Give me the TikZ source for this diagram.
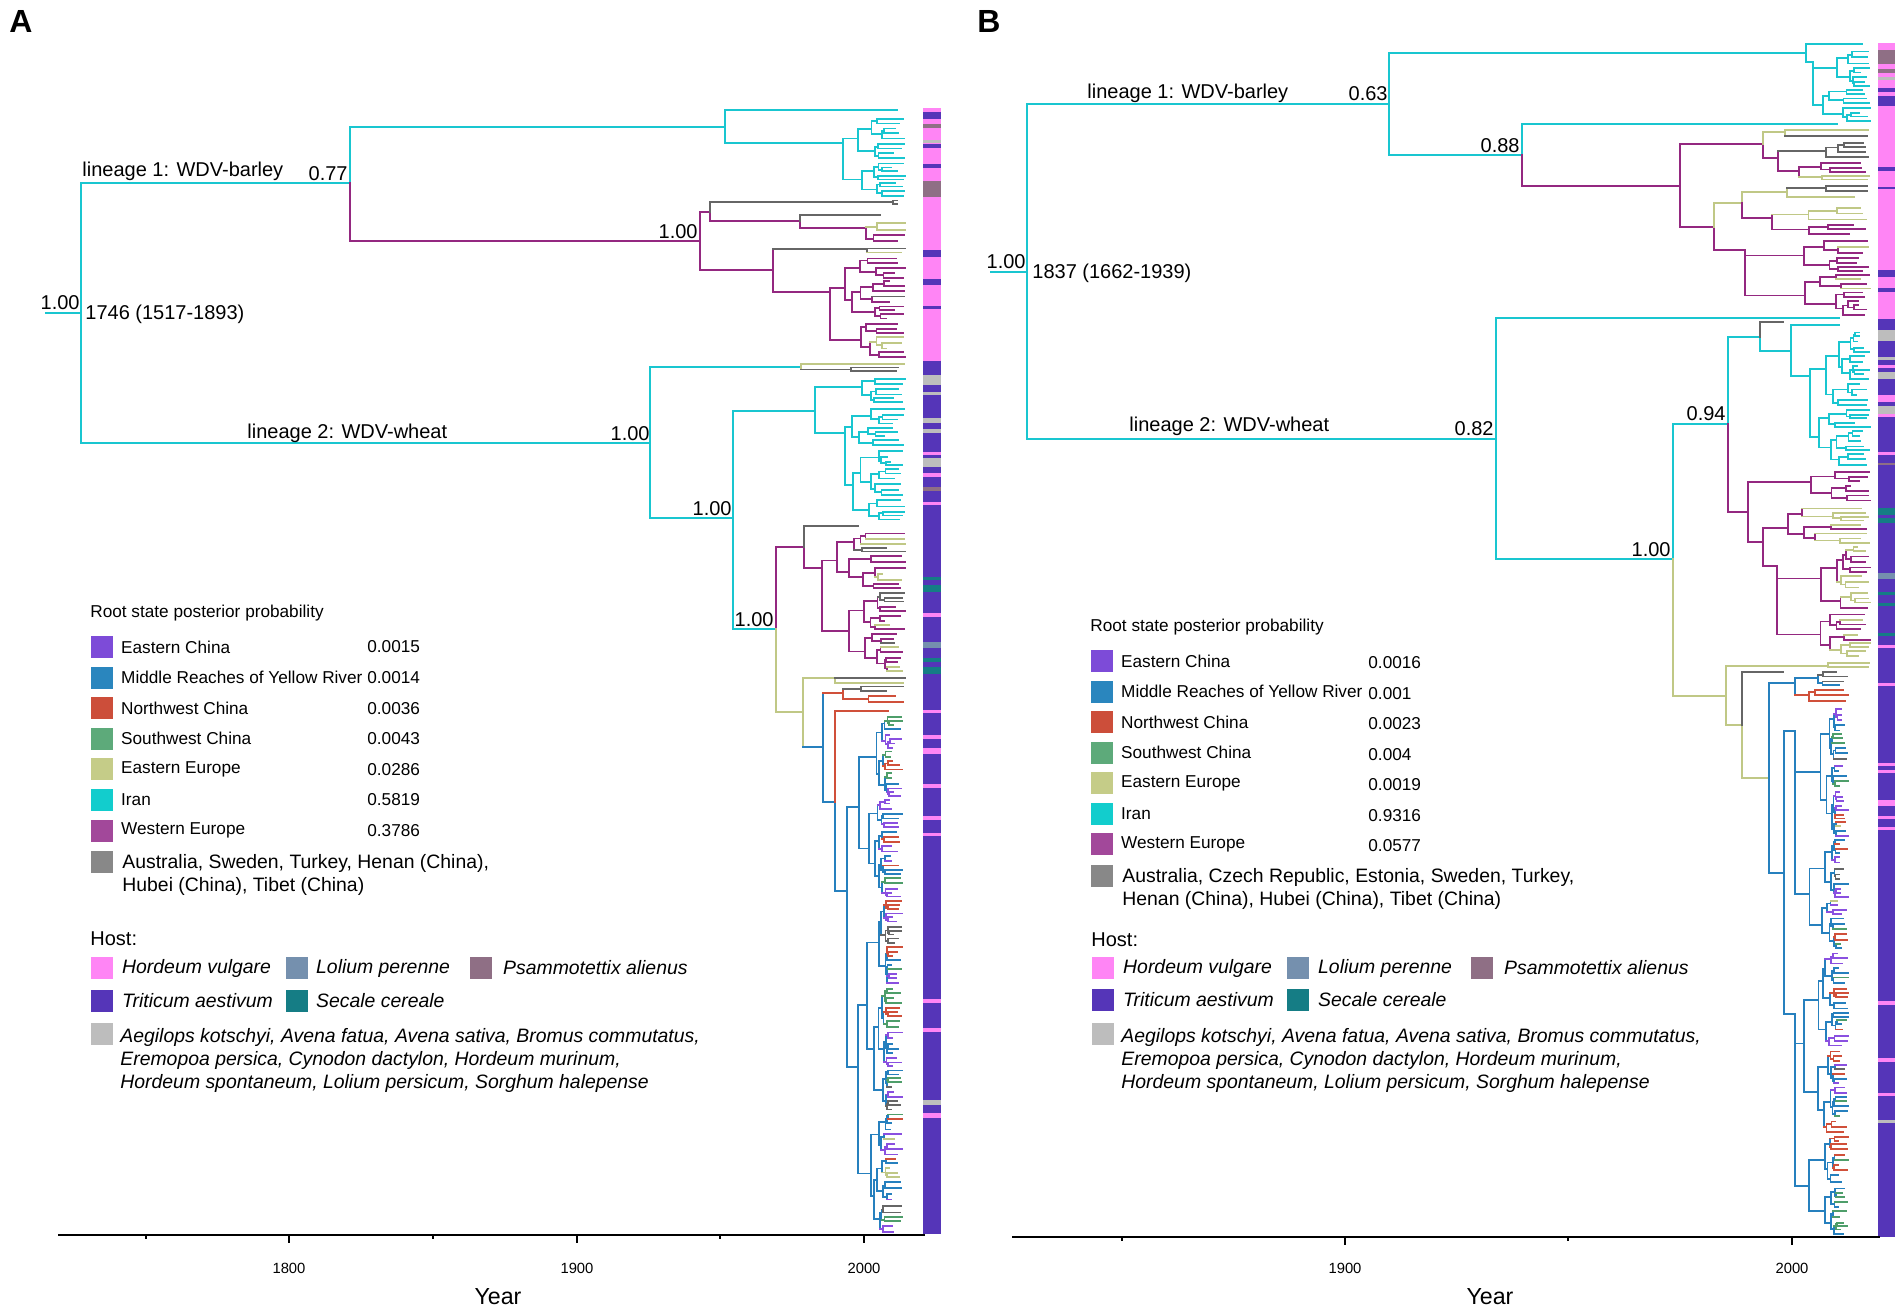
\documentclass[tikz,border=0pt]{standalone}
\usepackage{fontspec}
\setmainfont{Liberation Sans}
\usetikzlibrary{positioning}

\definecolor{cyT}{RGB}{25,198,208}
\definecolor{mgT}{RGB}{148,40,128}
\definecolor{olT}{RGB}{192,200,134}
\definecolor{gyT}{RGB}{102,102,102}
\definecolor{blT}{RGB}{38,128,190}
\definecolor{rdT}{RGB}{208,80,58}
\definecolor{gnT}{RGB}{78,158,106}
\definecolor{viT}{RGB}{138,80,224}
\definecolor{lEast}{RGB}{125,75,216}
\definecolor{lMid}{RGB}{42,134,190}
\definecolor{lNW}{RGB}{204,78,58}
\definecolor{lSW}{RGB}{93,170,122}
\definecolor{lEE}{RGB}{197,204,136}
\definecolor{lIran}{RGB}{18,205,205}
\definecolor{lWE}{RGB}{162,72,154}
\definecolor{lOth}{RGB}{136,136,136}
\definecolor{hPink}{RGB}{255,133,245}
\definecolor{hLol}{RGB}{117,144,174}
\definecolor{hPsa}{RGB}{143,111,133}
\definecolor{hTri}{RGB}{85,53,184}
\definecolor{hSec}{RGB}{21,125,133}
\definecolor{hOth}{RGB}{189,189,189}

\def\tipx{900}\def\tipjit{30}\def\tipgap{7}
\def\mixp{0}\def\mixn{1}\def\mixlist{0}
\newcommand{\setmix}[3]{\def\mixp{#1}\def\mixn{#2}\def\mixlist{#3}}
\newcommand{\pickmix}{%
  \pgfmathtruncatemacro{\tCi}{{\mixlist}[min(int(rnd*\mixn),\mixn-1)]}%
  \ifcase\tCi\def\tCc{rdT}\or\def\tCc{gnT}\or\def\tCc{viT}\or\def\tCc{gyT}\or\def\tCc{olT}\or\def\tCc{mgT}\fi
  \def\mixp{0}}
\newcommand{\subtree}[3]{%
  \begingroup
  \pgfmathsetmacro{\tHh}{#3-#2}%
  \pgfmathsetmacro{\tYm}{(#2+#3)/2}%
  \pgfmathtruncatemacro{\tSw}{and(\tHh<3*\tipgap,rnd<\mixp)}%
  \ifnum\tSw=1 \pickmix\fi
  \ifdim\tHh pt<\tipgap pt
    \pgfmathsetmacro{\tXe}{max(\tipx-\tipjit*rnd*rnd,#1+4)}%
    \draw[\tCc] (#1,\tYm) -- (\tXe,\tYm);%
  \else
    \pgfmathsetmacro{\tXn}{#1+max(\tipx-0.5*\tipjit-#1,3)*(0.15+0.45*rnd)}%
    \pgfmathsetmacro{\tYs}{#2+\tHh*(0.3+0.4*rnd)}%
    \pgfmathsetmacro{\tUa}{(#2+\tYs)/2}%
    \pgfmathsetmacro{\tLa}{(\tYs+#3)/2}%
    \draw[\tCc] (#1,\tYm) -- (\tXn,\tYm) (\tXn,\tUa) -- (\tXn,\tLa);%
    \edef\next{\noexpand\subtree{\tXn}{#2}{\tYs}\noexpand\subtree{\tXn}{\tYs}{#3}}%
    \next
  \fi
  \endgroup}
\newcommand{\clade}[6]{%
  \begingroup
  \def\tCc{#1}%
  \pgfmathsetmacro{\tHh}{#6-#5}%
  \pgfmathsetmacro{\tYs}{#5+\tHh*(0.35+0.3*rnd)}%
  \pgfmathsetmacro{\tUa}{(#5+\tYs)/2}%
  \pgfmathsetmacro{\tLa}{(\tYs+#6)/2}%
  \pgfmathsetmacro{\tVa}{min(\tUa,#3)}%
  \pgfmathsetmacro{\tVb}{max(\tLa,#3)}%
  \draw[\tCc] (#2,#3) -- (#4,#3) (#4,\tVa) -- (#4,\tVb);%
  \edef\next{\noexpand\subtree{#4}{#5}{\tYs}\noexpand\subtree{#4}{\tYs}{#6}}%
  \next
  \endgroup}

\begin{document}
\begin{tikzpicture}[x=0.5pt,y=-0.5pt,
    lab/.style={font=\fontsize{10}{12}\selectfont,inner sep=0pt},
    leg/.style={font=\fontsize{8.6}{10}\selectfont,inner sep=0pt,anchor=west},
    legb/.style={font=\fontsize{9.7}{11.5}\selectfont,inner sep=0pt,anchor=west},
    hostl/.style={font=\fontsize{9.7}{11.5}\selectfont\itshape,inner sep=0pt,anchor=west},
    swatch/.style={minimum size=11pt,inner sep=0pt,anchor=west},
    axl/.style={font=\fontsize{7.4}{9}\selectfont,inner sep=0pt},
    yearl/.style={font=\fontsize{11.6}{13}\selectfont,inner sep=0pt},
    panel/.style={font=\fontsize{16}{16}\selectfont\bfseries,inner sep=0pt,anchor=north west},
    bb/.style={line width=1.25pt,line cap=rect},
    twig/.style={line width=0.9pt,line cap=rect}]
  \useasboundingbox (0,0) rectangle (1902,1312);
  \pgfmathsetseed{11}

  \node[panel] (pA) at (9,10) {A};
  \node[panel] (pB) at (977,10) {B};

  \begin{scope}[bb]
    \draw[cyT] (46,313) -- (81,313);
    \draw[cyT] (81,183) -- (81,443);
    \draw[cyT] (81,183) -- (350,183);
    \draw[cyT] (350,127) -- (350,183);
    \draw[mgT] (350,183) -- (350,241);
    \draw[cyT] (350,127) -- (725,127);
    \draw[mgT] (350,241) -- (700,241);
    \draw[cyT] (81,443) -- (650,443);
    \draw[cyT] (650,367) -- (650,518);
    \draw[cyT] (650,367) -- (801,367);
    \draw[cyT] (650,518) -- (733,518);
    \draw[cyT] (733,411) -- (733,629);
    \draw[cyT] (733,629) -- (776,629);
    \draw[mgT] (776,547) -- (776,629);
    \draw[olT] (776,629) -- (776,712);
  \end{scope}

  \begin{scope}[twig]
    \def\tipx{905}\def\tipjit{28}
    \setmix{0}{1}{0}
    \draw[cyT] (725,110) -- (725,143) (725,110) -- (897,110);
    \clade{cyT}{725}{143}{843}{116}{198}
    \draw[mgT] (700,212) -- (700,270) (700,212) -- (710,212) (710,212) -- (710,221);
    \draw[gyT] (710,202) -- (710,212);
    \clade{gyT}{710}{202}{893}{199}{206}
    \draw[mgT] (710,221) -- (800,221) (800,221) -- (800,228);
    \draw[gyT] (800,215) -- (800,221) (800,215) -- (880,215);
    \setmix{0.15}{3}{4,4,3}
    \clade{mgT}{800}{228}{866}{220}{244}
    \draw[mgT] (700,270) -- (773,270) (773,249) -- (773,292);
    \setmix{0.5}{1}{4}
    \clade{gyT}{773}{249}{867}{246}{254}
    \setmix{0.15}{3}{4,4,3}
    \clade{mgT}{773}{292}{830}{256}{360}
    \setmix{0.4}{1}{3}
    \clade{olT}{801}{367}{801}{362}{373}
    \setmix{0}{1}{0}
    \draw[cyT] (733,411) -- (815,411) (815,387) -- (815,433);
    \clade{cyT}{815}{387}{862}{376}{404}
    \clade{cyT}{815}{433}{845}{406}{522}
    \draw[mgT] (776,547) -- (804,547) (804,547) -- (804,568);
    \draw[gyT] (804,526) -- (804,547) (804,526) -- (858,526);
    \setmix{0.2}{3}{4,4,3}
    \clade{mgT}{804}{568}{822}{531}{672}
    \draw[olT] (776,712) -- (803,712) (803,678) -- (803,747);
    \setmix{0.4}{1}{3}
    \clade{olT}{803}{678}{835}{675}{685}
    \draw[blT] (803,747) -- (823,747) (823,693) -- (823,802) (823,802) -- (835,802) (835,802) -- (835,891);
    \draw[rdT] (835,711) -- (835,802) (835,711) -- (888,711);
    \setmix{0.5}{1}{3}
    \clade{rdT}{823}{693}{843}{684}{705}
    \def\tipx{902}\def\tipjit{24}
    \setmix{0.45}{11}{0,0,0,1,1,1,2,2,2,3,4}
    \clade{blT}{835}{891}{847}{715}{1235}
  \end{scope}

  \node[lab,anchor=base east] (sA0) at (80,309) {1.00};
  \node[lab,anchor=base west] (dA) at (85,319) {1746 (1517-1893)};
  \node[lab,anchor=base west] (lA1) at (82,176) {lineage 1: WDV-barley};
  \node[lab,anchor=base east] (sA1) at (348,180) {0.77};
  \node[lab,anchor=base east] (sA2) at (698,238) {1.00};
  \node[lab,anchor=base west] (lA2) at (247,438) {lineage 2: WDV-wheat};
  \node[lab,anchor=base east] (sA3) at (650,440) {1.00};
  \node[lab,anchor=base east] (sA4) at (732,515) {1.00};
  \node[lab,anchor=base east] (sA5) at (774,626) {1.00};

  \fill[hPink] (923,108) rectangle (941,361);
  \fill[hTri] (923,361) rectangle (941,1234);
  \foreach \ya/\yb/\cl in {112/119/hTri,124/128/hPsa,140/143/hOth,144/148/hTri,164/168/hTri,181/197/hPsa,
      250/257/hTri,279/285/hTri,306/309/hTri,375/385/hOth,392/395/hOth,418/423/hOth,429/433/hOth,
      452/455/hPink,458/467/hOth,473/477/hPink,487/491/hPsa,502/505/hPink,577/580/hSec,585/592/hSec,
      613/617/hPink,642/648/hLol,658/662/hSec,667/674/hSec,710/713/hPink,735/739/hPink,748/754/hPink,
      784/788/hPink,816/820/hPink,833/836/hPink,999/1003/hPink,1028/1032/hPink,1100/1105/hOth,1113/1118/hPink}
    \fill[\cl] (923,\ya) rectangle (941,\yb);

  \begin{scope}[bb]
    \draw[cyT] (991,272) -- (1027,272);
    \draw[cyT] (1027,104) -- (1027,439);
    \draw[cyT] (1027,104) -- (1389,104);
    \draw[cyT] (1389,53) -- (1389,155);
    \draw[cyT] (1389,53) -- (1806,53);
    \draw[cyT] (1389,155) -- (1522,155);
    \draw[cyT] (1522,124) -- (1522,155);
    \draw[mgT] (1522,155) -- (1522,186);
    \draw[mgT] (1522,186) -- (1680,186);
    \draw[cyT] (1027,439) -- (1496,439);
    \draw[cyT] (1496,318) -- (1496,559);
    \draw[cyT] (1496,559) -- (1673,559);
    \draw[cyT] (1673,424) -- (1673,559);
    \draw[olT] (1673,559) -- (1673,696);
    \draw[cyT] (1673,424) -- (1728,424);
    \draw[cyT] (1728,337) -- (1728,424);
    \draw[mgT] (1728,424) -- (1728,512);
  \end{scope}

  \begin{scope}[twig]
    \def\tipx{1870}\def\tipjit{22}
    \setmix{0}{1}{0}
    \draw[cyT] (1806,44) -- (1806,62) (1806,44) -- (1862,44);
    \clade{cyT}{1806}{62}{1813}{49}{123}
    \draw[cyT] (1522,124) -- (1837,124);
    \draw[cyT] (1496,318) -- (1839,318);
    \draw[mgT] (1680,144) -- (1680,227) (1680,144) -- (1763,144) (1763,144) -- (1763,158);
    \draw[olT] (1763,132) -- (1763,144);
    \setmix{0.3}{1}{3}
    \clade{olT}{1763}{132}{1785}{127}{139}
    \setmix{0.2}{3}{3,4,4}
    \clade{mgT}{1763}{158}{1778}{141}{181}
    \draw[mgT] (1680,227) -- (1714,227) (1714,227) -- (1714,250);
    \draw[olT] (1714,203) -- (1714,227) (1714,203) -- (1742,203) (1742,192) -- (1742,203);
    \draw[mgT] (1742,203) -- (1742,218);
    \setmix{0.3}{1}{3}
    \clade{olT}{1742}{192}{1787}{183}{200}
    \setmix{0.3}{2}{3,4}
    \clade{mgT}{1742}{218}{1772}{206}{236}
    \setmix{0.15}{1}{4}
    \clade{mgT}{1714}{250}{1745}{238}{318}
    \setmix{0}{1}{0}
    \draw[cyT] (1728,337) -- (1760,337) (1760,337) -- (1760,351) (1760,351) -- (1791,351) (1791,325) -- (1791,376) (1791,325) -- (1839,325);
    \draw[gyT] (1760,322) -- (1760,337) (1760,322) -- (1783,322);
    \clade{cyT}{1791}{376}{1810}{331}{467}
    \draw[mgT] (1728,512) -- (1748,512) (1748,482) -- (1748,542) (1748,542) -- (1763,542) (1763,528) -- (1763,566);
    \setmix{0.1}{1}{4}
    \clade{mgT}{1748}{482}{1811}{470}{503}
    \setmix{0.3}{1}{4}
    \clade{mgT}{1763}{528}{1788}{506}{545}
    \clade{mgT}{1763}{566}{1777}{546}{658}
    \draw[olT] (1673,696) -- (1726,696) (1726,666) -- (1726,725) (1726,725) -- (1742,725) (1742,725) -- (1742,778) (1742,778) -- (1769,778);
    \draw[gyT] (1742,672) -- (1742,725) (1742,672) -- (1783,672);
    \setmix{0}{1}{0}
    \clade{olT}{1726}{666}{1828}{662}{669}
    \draw[blT] (1769,683) -- (1769,873) (1769,873) -- (1784,873) (1784,731) -- (1784,1014);
    \def\tipx{1848}\def\tipjit{20}
    \setmix{0.5}{2}{3,0}
    \clade{blT}{1769}{683}{1795}{670}{704}
    \setmix{0.45}{11}{0,0,0,1,1,1,2,2,2,3,4}
    \clade{blT}{1784}{731}{1795}{706}{950}
    \clade{blT}{1784}{1014}{1795}{952}{1237}
  \end{scope}

  \node[lab,anchor=base east] (sB0) at (1026,268) {1.00};
  \node[lab,anchor=base west] (dB) at (1032,278) {1837 (1662-1939)};
  \node[lab,anchor=base west] (lB1) at (1087,98) {lineage 1: WDV-barley};
  \node[lab,anchor=base east] (sB1) at (1388,100) {0.63};
  \node[lab,anchor=base east] (sB2) at (1520,152) {0.88};
  \node[lab,anchor=base west] (lB2) at (1129,431) {lineage 2: WDV-wheat};
  \node[lab,anchor=base east] (sB3) at (1494,435) {0.82};
  \node[lab,anchor=base east] (sB4) at (1726,420) {0.94};
  \node[lab,anchor=base east] (sB5) at (1671,556) {1.00};

  \fill[hPink] (1878,43) rectangle (1895,319);
  \fill[hTri] (1878,319) rectangle (1895,1237);
  \foreach \ya/\yb/\cl in {50/64/hPsa,69/73/hPsa,77/80/hOth,88/92/hTri,96/106/hTri,167/171/hTri,187/189/hTri,
      270/277/hTri,288/292/hTri,330/341/hOth,357/360/hOth,365/368/hPink,372/379/hOth,395/402/hPink,
      406/414/hOth,414/417/hPink,452/455/hPink,463/465/hPsa,508/515/hSec,518/523/hSec,573/579/hLol,
      592/595/hSec,603/606/hSec,633/636/hSec,645/648/hPink,683/686/hPink,763/766/hPink,770/773/hPink,
      800/806/hPink,816/819/hPink,827/830/hPink,1001/1005/hPink,1058/1062/hPink,1093/1096/hPink,1120/1123/hOth}
    \fill[\cl] (1878,\ya) rectangle (1895,\yb);

  \node[leg] (rsA) at (90,613) {Root state posterior probability};
  \foreach \cl/\nm/\pv [count=\i] in {lEast/Eastern China/0.0015,lMid/Middle Reaches of Yellow River/0.0014,
      lNW/Northwest China/0.0036,lSW/Southwest China/0.0043,lEE/Eastern Europe/0.0286,
      lIran/Iran/0.5819,lWE/Western Europe/0.3786} {
    \pgfmathsetmacro{\yy}{647+(\i-1)*30.6}
    \node[swatch,fill=\cl] (swA\i) at (91,\yy) {};
    \node[leg,right=3.5pt of swA\i] (nmA\i) {\nm};
    \node[leg] (pvA\i) at (367,\yy) {\pv};
  }
  \node[swatch,fill=lOth] (swA8) at (91,862) {};
  \node[legb] (nmA8) at (122,863) {Australia, Sweden, Turkey, Henan (China),};
  \node[legb] (nmA9) at (122,886) {Hubei (China), Tibet (China)};

  \node[lab,anchor=west] (hoA) at (90,939) {Host:};
  \node[swatch,fill=hPink] (hA1) at (91,968) {};
  \node[hostl,right=4pt of hA1] (htA1) {Hordeum vulgare};
  \node[swatch,fill=hLol] (hA2) at (286,968) {};
  \node[hostl,right=3.5pt of hA2] (htA2) {Lolium perenne};
  \node[swatch,fill=hPsa] (hA3) at (470,968) {};
  \node[hostl,right=5pt of hA3] (htA3) {Psammotettix alienus};
  \node[swatch,fill=hTri] (hA4) at (91,1001) {};
  \node[hostl,right=4pt of hA4] (htA4) {Triticum aestivum};
  \node[swatch,fill=hSec] (hA5) at (286,1001) {};
  \node[hostl,right=3.5pt of hA5] (htA5) {Secale cereale};
  \node[swatch,fill=hOth] (hA6) at (91,1034) {};
  \node[hostl] (htA6) at (120,1037) {Aegilops kotschyi, Avena fatua, Avena sativa, Bromus commutatus,};
  \node[hostl] (htA7) at (120,1060) {Eremopoa persica, Cynodon dactylon, Hordeum murinum,};
  \node[hostl] (htA8) at (120,1083) {Hordeum spontaneum, Lolium persicum, Sorghum halepense};

  \node[leg] (rsB) at (1090,627) {Root state posterior probability};
  \foreach \cl/\nm/\pv [count=\i] in {lEast/Eastern China/0.0016,lMid/Middle Reaches of Yellow River/0.001,
      lNW/Northwest China/0.0023,lSW/Southwest China/0.004,lEE/Eastern Europe/0.0019,
      lIran/Iran/0.9316,lWE/Western Europe/0.0577} {
    \pgfmathsetmacro{\yy}{661+(\i-1)*30.5}
    \node[swatch,fill=\cl] (swB\i) at (1091,\yy) {};
    \node[leg,right=3.5pt of swB\i] (nmB\i) {\nm};
    \node[leg] (pvB\i) at (1368,\yy+2) {\pv};
  }
  \node[swatch,fill=lOth] (swB8) at (1091,876) {};
  \node[legb] (nmB8) at (1122,877) {Australia, Czech Republic, Estonia, Sweden, Turkey,};
  \node[legb] (nmB9) at (1122,900) {Henan (China), Hubei (China), Tibet (China)};

  \node[lab,anchor=west] (hoB) at (1091,940) {Host:};
  \node[swatch,fill=hPink] (hB1) at (1092,968) {};
  \node[hostl,right=4pt of hB1] (htB1) {Hordeum vulgare};
  \node[swatch,fill=hLol] (hB2) at (1287,968) {};
  \node[hostl,right=4pt of hB2] (htB2) {Lolium perenne};
  \node[swatch,fill=hPsa] (hB3) at (1471,968) {};
  \node[hostl,right=5pt of hB3] (htB3) {Psammotettix alienus};
  \node[swatch,fill=hTri] (hB4) at (1092,1000) {};
  \node[hostl,right=4pt of hB4] (htB4) {Triticum aestivum};
  \node[swatch,fill=hSec] (hB5) at (1287,1000) {};
  \node[hostl,right=4pt of hB5] (htB5) {Secale cereale};
  \node[swatch,fill=hOth] (hB6) at (1092,1034) {};
  \node[hostl] (htB6) at (1121,1037) {Aegilops kotschyi, Avena fatua, Avena sativa, Bromus commutatus,};
  \node[hostl] (htB7) at (1121,1060) {Eremopoa persica, Cynodon dactylon, Hordeum murinum,};
  \node[hostl] (htB8) at (1121,1083) {Hordeum spontaneum, Lolium persicum, Sorghum halepense};

  \draw[line width=1.25pt] (58,1235) -- (925,1235);
  \foreach \x/\yr in {289/1800,577/1900,864/2000} {
    \draw[line width=0.6pt] (\x,1235) -- (\x,1243);
    \node[axl] (axA\yr) at (\x,1268) {\yr};
  }
  \foreach \x in {146,433,720}
    \draw[line width=0.6pt] (\x,1235) -- (\x,1239);
  \node[yearl] (yrA) at (498,1297) {Year};

  \draw[line width=1.25pt] (1012,1237) -- (1880,1237);
  \foreach \x/\yr in {1345/1900,1792/2000} {
    \draw[line width=0.6pt] (\x,1237) -- (\x,1245);
    \node[axl] (axB\yr) at (\x,1268) {\yr};
  }
  \foreach \x in {1122,1568}
    \draw[line width=0.6pt] (\x,1237) -- (\x,1241);
  \node[yearl] (yrB) at (1490,1297) {Year};
\end{tikzpicture}
\end{document}
